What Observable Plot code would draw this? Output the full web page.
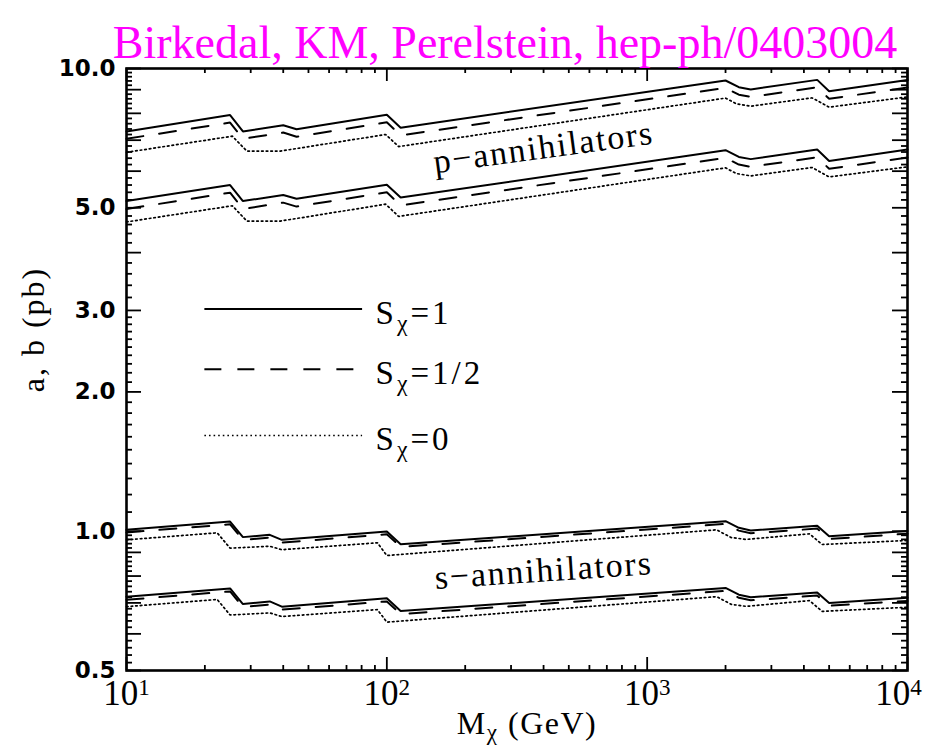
<!DOCTYPE html>
<html>
<head>
<meta charset="utf-8">
<script src="https://cdn.jsdelivr.net/npm/d3@7"></script>
<script src="https://cdn.jsdelivr.net/npm/@observablehq/plot@0.6"></script>
<style>
html, body { margin: 0; padding: 0; background: #fff; }
</style>
</head>
<body>
<div id="chart"></div>
<script>
// ---- data ----
const titleText = "Birkedal, KM, Perelstein, hep-ph/0403004";
const xLabelText = "Mχ (GeV)";
const yLabelText = "a, b (pb)";

// masses (GeV) at the kinks of each family of curves
const massP    = [10, 25, 28, 40, 45, 100, 113, 2000, 2250, 2500, 4500, 5000, 10000];
const massPdot = [10, 25.5, 29, 39, 99, 111, 2000, 2200, 2500, 4300, 5000, 10000];
const massS    = [10, 25, 28, 35.5, 39.5, 100, 113, 2000, 2250, 2500, 4500, 5000, 10000];
const massSdot = [10, 22.3, 25, 35.5, 39.5, 92, 100, 1850, 2100, 2400, 4200, 4700, 10000];

// p-annihilators, upper curves (pb)
const pUpperS1   = [7.31, 7.93, 7.31, 7.54, 7.39, 7.94, 7.45, 9.42, 9.11, 9.01, 9.45, 8.93, 9.44];
const pUpperShalf= [7.05, 7.64, 7.05, 7.27, 7.12, 7.65, 7.17, 9.08, 8.78, 8.68, 9.11, 8.60, 9.10];
const pUpperS0   = [6.59, 7.14, 6.63, 6.63, 7.20, 6.78, 8.63, 8.39, 8.29, 8.64, 8.25, 8.68];
// p-annihilators, lower curves
const pLowerS1   = [5.17, 5.60, 5.17, 5.33, 5.23, 5.61, 5.26, 6.66, 6.44, 6.37, 6.68, 6.31, 6.68];
const pLowerShalf= [4.97, 5.39, 4.97, 5.13, 5.03, 5.40, 5.06, 6.41, 6.20, 6.13, 6.43, 6.07, 6.42];
const pLowerS0   = [4.66, 5.05, 4.68, 4.68, 5.09, 4.79, 6.10, 5.93, 5.86, 6.11, 5.83, 6.13];
// s-annihilators, upper curves
const sUpperS1   = [1.007, 1.049, 0.971, 0.982, 0.958, 0.999, 0.937, 1.051, 1.017, 1.004, 1.027, 0.975, 1.001];
const sUpperShalf= [0.994, 1.035, 0.958, 0.969, 0.945, 0.985, 0.925, 1.037, 1.003, 0.990, 1.013, 0.962, 0.988];
const sUpperS0   = [0.958, 0.992, 0.919, 0.928, 0.912, 0.944, 0.886, 1.007, 0.969, 0.960, 0.987, 0.936, 0.955];
// s-annihilators, lower curves
const sLowerS1   = [0.722, 0.752, 0.696, 0.705, 0.687, 0.716, 0.672, 0.754, 0.729, 0.720, 0.737, 0.700, 0.718];
const sLowerShalf= [0.711, 0.741, 0.686, 0.694, 0.677, 0.705, 0.662, 0.743, 0.718, 0.709, 0.726, 0.690, 0.707];
const sLowerS0   = [0.687, 0.712, 0.659, 0.666, 0.654, 0.677, 0.636, 0.722, 0.695, 0.688, 0.708, 0.671, 0.685];

// tick values
const xLabelTicks = [10, 100, 1000, 10000];
const xMinorTicks = [1, 10, 100].flatMap(d => [2,3,4,5,6,7,8,9].map(k => k * d * 10));
const yLabelTicks = [0.5, 0.7, 1.0, 2.0, 3.0, 5.0, 7.0, 10.0];
const yMediumTicks = [0.6, 0.8, 0.9, 4, 6, 8, 9];
const yMinorTicks = [
  ...d3.range(52, 100, 2).map(d => d / 100),
  ...d3.range(11, 30, 1).map(d => d / 10),
  ...d3.range(32, 100, 2).map(d => d / 10)
].filter(d => !yLabelTicks.includes(d) && !yMediumTicks.includes(d));

// legend
const legendItems = ["Sχ=1", "Sχ=1/2", "Sχ=0"];
const legendSpin = ["1", "1/2", "0"];
const legendY = [3.02, 2.24, 1.61];
const legendX1 = 20, legendX2 = 80.7, legendTextX = 90.5;

// annotations
const annotations = [
  {text: "p−annihilators", mass: 400, value: 6.75, angle: -7.7},
  {text: "s−annihilators", mass: 400, value: 0.822, angle: -3.9}
];

// ---- build the table ----
const curves = [
  {id: "pU1",  spin: "1",   mass: massP,    value: pUpperS1},
  {id: "pUh",  spin: "1/2", mass: massP,    value: pUpperShalf},
  {id: "pU0",  spin: "0",   mass: massPdot, value: pUpperS0},
  {id: "pL1",  spin: "1",   mass: massP,    value: pLowerS1},
  {id: "pLh",  spin: "1/2", mass: massP,    value: pLowerShalf},
  {id: "pL0",  spin: "0",   mass: massPdot, value: pLowerS0},
  {id: "sU1",  spin: "1",   mass: massS,    value: sUpperS1},
  {id: "sUh",  spin: "1/2", mass: massS,    value: sUpperShalf},
  {id: "sU0",  spin: "0",   mass: massSdot, value: sUpperS0},
  {id: "sL1",  spin: "1",   mass: massS,    value: sLowerS1},
  {id: "sLh",  spin: "1/2", mass: massS,    value: sLowerShalf},
  {id: "sL0",  spin: "0",   mass: massSdot, value: sLowerS0}
];
const rows = curves.flatMap(c => c.mass.map((m, i) => ({id: c.id, spin: c.spin, mass: m, value: c.value[i]})));
const legendRows = legendItems.map((t, i) => ({label: t, spin: legendSpin[i], y: legendY[i]}));

const lineStyle = {
  "1":   {strokeWidth: 2},
  "1/2": {strokeWidth: 2, strokeDasharray: "17,16"},
  "0":   {strokeWidth: 1.7, strokeDasharray: "1.6,3"}
};

// ---- layout ----
const W = 928, H = 749;
const mL = 126, mR = 21, mT = 68, mB = 79;
const fw = W - mL - mR, fh = H - mT - mB;
const majorLen = 15, minorLen = 6, xMajorLen = 13, xMinorLen = 5;
const serif = "Liberation Serif";

const tickStyle = {stroke: "black", strokeWidth: 1.8};

const chart = Plot.plot({
  width: W,
  height: H,
  marginLeft: mL, marginRight: mR, marginTop: mT, marginBottom: mB,
  style: {background: "white", overflow: "visible", fontFamily: serif},
  x: {type: "log", domain: [10, 10000]},
  y: {type: "log", domain: [0.5, 10]},
  marks: [
    // curves
    ...["1", "1/2", "0"].map(s =>
      Plot.line(rows.filter(r => r.spin === s), {x: "mass", y: "value", z: "id", stroke: "black", strokeLinejoin: "miter", ...lineStyle[s]})
    ),
    // legend
    ...legendRows.map(r =>
      Plot.ruleY([r.y], {x1: legendX1, x2: legendX2, stroke: "black", ...lineStyle[r.spin]})
    ),
    Plot.text(legendRows, {x: legendTextX, y: "y", text: "label", textAnchor: "start", dy: 4, fontSize: 33, fontFamily: serif, fill: "black"}),
    // annotations
    ...annotations.map(a =>
      Plot.text([a], {x: "mass", y: "value", text: "text", rotate: a.angle, fontSize: 34, fontFamily: serif, fill: "black"})
    ),
    // y ticks (inward, both sides)
    Plot.ruleY([...yLabelTicks, ...yMediumTicks], {insetRight: fw - majorLen, ...tickStyle}),
    Plot.ruleY(yMinorTicks, {insetRight: fw - minorLen, ...tickStyle}),
    Plot.ruleY([...yLabelTicks, ...yMediumTicks], {insetLeft: fw - majorLen, ...tickStyle}),
    Plot.ruleY(yMinorTicks, {insetLeft: fw - minorLen, ...tickStyle}),
    // x ticks (inward, both sides)
    Plot.ruleX(xLabelTicks, {insetTop: fh - xMajorLen, ...tickStyle}),
    Plot.ruleX(xMinorTicks, {insetTop: fh - xMinorLen, ...tickStyle}),
    Plot.ruleX(xLabelTicks, {insetBottom: fh - xMajorLen, ...tickStyle}),
    Plot.ruleX(xMinorTicks, {insetBottom: fh - xMinorLen, ...tickStyle}),
    // frame
    Plot.frame({stroke: "black", strokeWidth: 2.6}),
    // tick labels
    Plot.axisY({ticks: yLabelTicks, tickSize: 0, tickPadding: 11, tickFormat: d => d.toFixed(1),
      fontSize: 23, fontWeight: "bold", fontFamily: "DejaVu Sans", fill: "black", label: null}),
    Plot.axisX({ticks: xLabelTicks, tickSize: 0, tickPadding: 10, tickFormat: d => "10^" + Math.round(Math.log10(d)),
      fontSize: 35, fontFamily: serif, fill: "black", label: null}),
    // axis titles
    Plot.text([xLabelText], {frameAnchor: "bottom", dx: 10, dy: 63, fontSize: 32, fontFamily: serif, fill: "black"}),
    Plot.text([yLabelText], {frameAnchor: "left", textAnchor: "middle", dx: -93, dy: -40, rotate: -90, fontSize: 32, fontFamily: serif, fill: "black"}),
    // title
    Plot.text([titleText], {frameAnchor: "top", dx: -12, dy: -43, fontSize: 46, fontFamily: serif, fill: "#ff00ff"})
  ]
});

// rich text: superscripts for powers of ten, subscript chi, letter spacing
const spacing = new Map([
  ["p−annihilators", "1.8px"], ["s−annihilators", "1.8px"],
  [xLabelText, "1.5px"], [yLabelText, "2px"],
  ...legendItems.map(t => [t, "3px"])
]);
d3.select(chart).selectAll("text").each(function() {
  const el = this;
  if (el.querySelector("tspan")) return;
  const t = el.textContent;
  if (spacing.has(t)) el.style.letterSpacing = spacing.get(t);
  const m = t.match(/^10\^(\d+)$/);
  const s = d3.select(el);
  if (m) {
    el.textContent = "";
    if (m[1] === "4") s.attr("dx", -9);
    s.append("tspan").text("10");
    s.append("tspan").attr("dy", "-0.45em").attr("font-size", "0.66em").text(m[1]);
  } else if (t.includes("χ")) {
    const [a, b] = t.split("χ");
    el.textContent = "";
    s.append("tspan").text(a);
    s.append("tspan").attr("dy", "0.3em").attr("font-size", "0.72em").text("χ");
    s.append("tspan").attr("dy", "-0.216em").text(b);
  }
});

document.getElementById("chart").appendChild(chart);
</script>
</body>
</html>
